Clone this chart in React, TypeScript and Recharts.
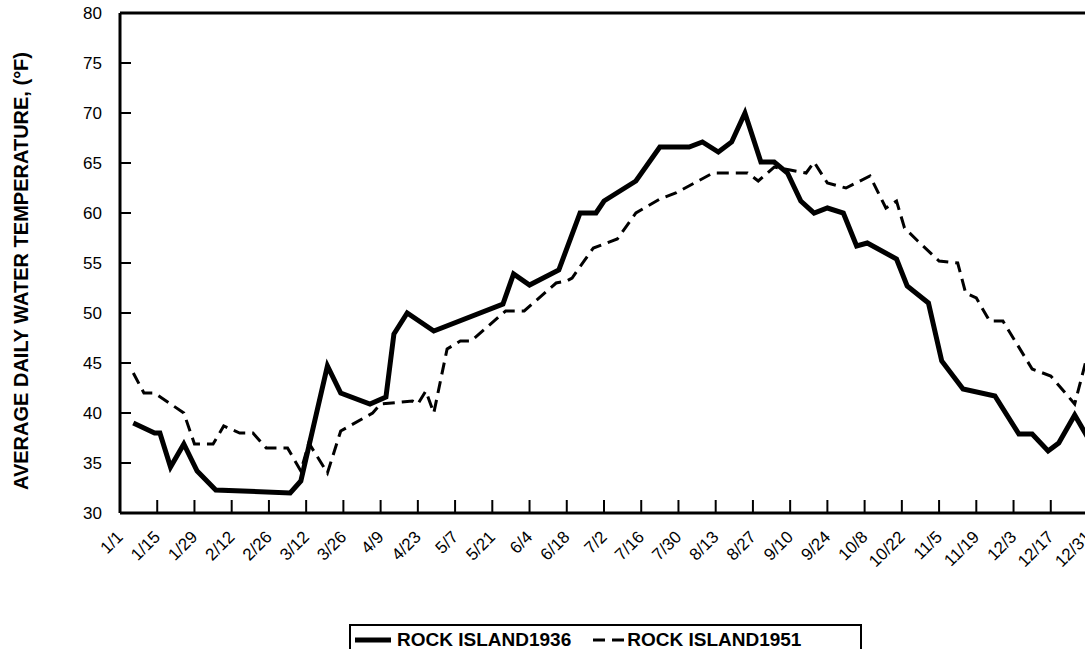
import React from "react";
import { Line, LineChart, XAxis, YAxis } from "recharts";

// day of year (0 = 1/1) and average daily water temperature (°F)
const days1936 = [5, 13, 15, 19, 24, 29, 36, 64, 68, 78, 83, 94, 100, 103, 108, 118, 144, 148, 154, 165, 173, 179, 182, 194, 203, 214, 219, 225, 230, 235, 241, 246, 251, 256, 261, 266, 272, 277, 281, 292, 296, 304, 309, 317, 329, 338, 343, 349, 353, 359, 364];
const temps1936 = [39.0, 38.0, 38.0, 34.6, 36.9, 34.2, 32.3, 32.0, 33.2, 44.7, 42.0, 40.9, 41.6, 47.9, 50.0, 48.2, 50.9, 53.9, 52.8, 54.3, 60.0, 60.0, 61.2, 63.2, 66.6, 66.6, 67.1, 66.1, 67.1, 70.0, 65.1, 65.1, 64.0, 61.2, 60.0, 60.5, 60.0, 56.7, 57.0, 55.4, 52.7, 51.0, 45.2, 42.4, 41.7, 37.9, 37.9, 36.2, 37.0, 39.8, 37.5];

const days1951 = [5, 9, 13, 24, 28, 35, 39, 45, 50, 55, 63, 68, 71, 78, 83, 95, 98, 110, 112, 115, 118, 123, 128, 132, 145, 152, 164, 168, 170, 178, 187, 194, 203, 209, 223, 236, 240, 246, 252, 258, 261, 266, 273, 282, 288, 292, 295, 300, 308, 315, 318, 322, 327, 332, 343, 350, 359, 364];
const temps1951 = [44.0, 42.0, 42.0, 40.0, 36.9, 36.9, 38.7, 38.0, 38.0, 36.5, 36.5, 34.2, 37.0, 34.0, 38.2, 40.0, 40.9, 41.2, 40.9, 42.2, 40.0, 46.4, 47.2, 47.2, 50.2, 50.2, 53.0, 53.2, 53.5, 56.5, 57.4, 60.0, 61.4, 62.0, 64.0, 64.0, 63.2, 64.6, 64.3, 64.0, 65.1, 63.0, 62.5, 63.7, 60.5, 61.2, 58.5, 57.2, 55.2, 55.0, 52.0, 51.5, 49.2, 49.2, 44.4, 43.7, 40.9, 46.0];

const xTicks = [0, 14, 28, 42, 56, 70, 84, 98, 112, 126, 140, 154, 168, 182, 196, 210, 224, 238, 252, 266, 280, 294, 308, 322, 336, 350, 364];
const xTickLabels = ["1/1", "1/15", "1/29", "2/12", "2/26", "3/12", "3/26", "4/9", "4/23", "5/7", "5/21", "6/4", "6/18", "7/2", "7/16", "7/30", "8/13", "8/27", "9/10", "9/24", "10/8", "10/22", "11/5", "11/19", "12/3", "12/17", "12/31"];
const yTicks = [30, 35, 40, 45, 50, 55, 60, 65, 70, 75, 80];

const data1936 = days1936.map((d, i) => ({ day: d, temp: temps1936[i] }));
const data1951 = days1951.map((d, i) => ({ day: d, temp: temps1951[i] }));

const FONT = "'Liberation Sans', Arial, Helvetica, sans-serif";
const axisLine = { stroke: "#000", strokeWidth: 3 };

function BottomTick({ x, y, payload }: any) {
  const label = xTickLabels[xTicks.indexOf(payload.value)] ?? "";
  const tx = x + 4;
  const ty = y + 25;
  return (
    <g>
      <line x1={x} y1={y} x2={x} y2={y - 13} stroke="#000" strokeWidth={2} />
      <text x={tx} y={ty} textAnchor="end" transform={`rotate(-45 ${tx} ${ty})`} fontSize={17} fontFamily={FONT} fill="#000">
        {label}
      </text>
    </g>
  );
}

function TopTick({ x, y }: any) {
  return <line x1={x} y1={y} x2={x} y2={y + 13} stroke="#000" strokeWidth={2} />;
}

function LeftTick({ x, y, payload }: any) {
  return (
    <g>
      <line x1={x} y1={y} x2={x + 11} y2={y} stroke="#000" strokeWidth={2} />
      <text x={x - 18} y={y} dy="0.36em" textAnchor="end" fontSize={17} fontFamily={FONT} fill="#000">
        {payload.value}
      </text>
    </g>
  );
}

function RightTick({ x, y }: any) {
  return <line x1={x} y1={y} x2={x - 11} y2={y} stroke="#000" strokeWidth={2} />;
}

function YTitle({ viewBox }: any) {
  const cx = viewBox.x + 21;
  const cy = viewBox.y + viewBox.height / 2 + 8;
  return (
    <text x={cx} y={cy} textAnchor="middle" dominantBaseline="central" transform={`rotate(-90 ${cx} ${cy})`} fontSize={20} fontWeight="bold" fontFamily={FONT} fill="#000">
      AVERAGE DAILY WATER TEMPERATURE, (°F)
    </text>
  );
}

export default function App() {
  return (
    <div style={{ position: "fixed", left: 0, top: 0, width: 1085, height: 649, overflow: "hidden", background: "#fff" }}>
      <LineChart width={1100} height={700} margin={{ top: 0, right: 0, bottom: 107, left: 0 }}>
        <XAxis
          xAxisId="bottom"
          dataKey="day"
          type="number"
          domain={[0, 364]}
          ticks={xTicks}
          interval={0}
          height={80}
          tickSize={0}
          tickMargin={0}
          tickLine={false}
          axisLine={axisLine}
          tick={<BottomTick />}
        />
        <XAxis
          xAxisId="top"
          orientation="top"
          dataKey="day"
          type="number"
          domain={[0, 364]}
          ticks={xTicks}
          interval={0}
          height={13}
          tickSize={0}
          tickMargin={0}
          tickLine={false}
          axisLine={axisLine}
          tick={<TopTick />}
        />
        <YAxis
          yAxisId="left"
          type="number"
          domain={[30, 80]}
          ticks={yTicks}
          interval={0}
          width={120}
          tickSize={0}
          tickMargin={0}
          tickLine={false}
          axisLine={axisLine}
          tick={<LeftTick />}
          label={<YTitle />}
        />
        <YAxis
          yAxisId="right"
          orientation="right"
          type="number"
          domain={[30, 80]}
          ticks={yTicks}
          interval={0}
          width={12}
          tickSize={0}
          tickMargin={0}
          tickLine={false}
          axisLine={axisLine}
          tick={<RightTick />}
        />
        <Line
          xAxisId="bottom"
          yAxisId="left"
          data={data1936}
          dataKey="temp"
          type="linear"
          stroke="#000"
          strokeWidth={5}
          dot={false}
          isAnimationActive={false}
        />
        <Line
          xAxisId="bottom"
          yAxisId="left"
          data={data1951}
          dataKey="temp"
          type="linear"
          stroke="#000"
          strokeWidth={3}
          strokeDasharray="12 7"
          dot={false}
          isAnimationActive={false}
        />
      </LineChart>
      <div
        style={{
          position: "absolute",
          left: 349,
          top: 624,
          width: 513,
          height: 36,
          border: "2px solid #000",
          display: "flex",
          alignItems: "flex-start",
          paddingTop: 3,
          boxSizing: "border-box",
          fontFamily: FONT,
          fontWeight: "bold",
          fontSize: 19,
          color: "#000",
        }}
      >
        <svg width={44} height={22} style={{ marginLeft: 2 }}>
          <line x1={2} y1={11} x2={38} y2={11} stroke="#000" strokeWidth={5} />
        </svg>
        <span>ROCK ISLAND1936</span>
        <svg width={36} height={22} style={{ marginLeft: 20 }}>
          <line x1={2} y1={11} x2={34} y2={11} stroke="#000" strokeWidth={3} strokeDasharray="12 7" />
        </svg>
        <span>ROCK ISLAND1951</span>
      </div>
    </div>
  );
}
